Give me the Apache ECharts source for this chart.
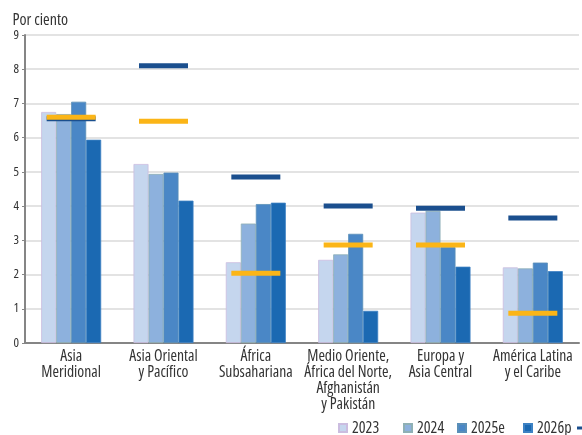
<!DOCTYPE html>
<html>
<head>
<meta charset="utf-8">
<script src="https://cdn.jsdelivr.net/npm/echarts@6/dist/echarts.min.js"></script>
<style>
  html, body { margin: 0; padding: 0; background: #ffffff; }
  #chart { width: 582px; height: 435px; }
</style>
</head>
<body>
<div id="chart"></div>
<script>
// Regions (category axis labels)
const regions = [
  'Asia\nMeridional',
  'Asia Oriental\ny Pacífico',
  'África\nSubsahariana',
  'Medio Oriente,\nÁfrica del Norte,\nAfghanistán\ny Pakistán',
  'Europa y\nAsia Central',
  'América Latina\ny el Caribe'
];

// Growth by year, per cent
const g2023  = [6.75, 5.23, 2.36, 2.43, 3.81, 2.21];
const g2024  = [6.69, 4.94, 3.49, 2.59, 3.86, 2.18];
const g2025e = [7.05, 4.98, 4.06, 3.19, 2.80, 2.35];
const g2026p = [5.94, 4.16, 4.10, 0.94, 2.23, 2.10];

// Period averages shown as horizontal markers
const avgDark   = [6.55, 8.10, 4.85, 4.00, 3.94, 3.65];
const avgYellow = [6.60, 6.48, 2.04, 2.86, 2.86, 0.87];

const yTicks = { min: 0, max: 9, interval: 1 };

// Condensed Open Sans: the stretch keyword goes in via fontStyle so it
// ends up in the canvas font shorthand.
const FONT = '"Open Sans", sans-serif';
const STRETCH = 'condensed';
const TXT = '#333333';

const colors = {
  y2023: '#c5d6ee',
  y2024: '#8db1dd',
  y2025e: '#4a87c6',
  y2026p: '#1b69b2',
  dark: '#1b4f8e',
  yellow: '#fbb517'
};

function barSeries(name, data, color, border) {
  return {
    name: name,
    type: 'bar',
    data: data,
    barWidth: 15,
    barGap: '0%',
    itemStyle: { color: color, borderColor: border, borderWidth: 0.8 },
    emphasis: { disabled: true },
    z: 2
  };
}

function markerSeries(name, data, color, z) {
  return {
    name: name,
    type: 'scatter',
    data: data.map((v, i) => [i, v]),
    symbol: 'rect',
    symbolSize: [49, 5],
    itemStyle: { color: color, opacity: 1 },
    emphasis: { disabled: true },
    z: z
  };
}

function legendAt(left, name, extra) {
  return Object.assign({
    data: [name],
    left: left,
    top: 420,
    padding: 0,
    width: 400,
    orient: 'horizontal',
    itemWidth: 8,
    itemHeight: 8,
    itemGap: 0,
    icon: 'rect',
    selectedMode: false,
    textStyle: { fontFamily: FONT, fontStyle: STRETCH, fontSize: 16, lineHeight: 16, color: TXT }
  }, extra || {});
}

const chart = echarts.init(document.getElementById('chart'), null, { renderer: 'canvas' });

chart.setOption({
  animation: false,
  backgroundColor: '#ffffff',
  title: {
    text: 'Por ciento',
    left: 12.5,
    top: 12.5,
    padding: 0,
    textStyle: { fontFamily: FONT, fontStyle: STRETCH, fontSize: 16, lineHeight: 16, fontWeight: 'normal', color: TXT }
  },
  grid: { left: 25, right: 3, top: 35, bottom: 92 },
  legend: [
    legendAt(338, '2023'),
    legendAt(403, '2024'),
    legendAt(457, '2025e'),
    legendAt(523, '2026p'),
    legendAt(577, 'Promedio 2000-19', { itemWidth: 12, itemHeight: 3 }),
    legendAt(700, 'Promedio 2010-19', { itemWidth: 12, itemHeight: 3 })
  ],
  xAxis: {
    type: 'category',
    data: regions,
    axisLine: { show: true, lineStyle: { color: '#858585', width: 2 } },
    axisTick: { show: false },
    axisLabel: {
      interval: 0,
      margin: 5,
      fontFamily: FONT,
      fontStyle: STRETCH,
      fontSize: 15.7,
      lineHeight: 16.2,
      color: TXT,
      verticalAlign: 'top'
    },
    splitLine: { show: false }
  },
  yAxis: {
    type: 'value',
    min: yTicks.min,
    max: yTicks.max,
    interval: yTicks.interval,
    axisLine: { show: true, lineStyle: { color: '#858585', width: 2 } },
    axisTick: { show: true, length: 3, lineStyle: { color: '#858585', width: 1 } },
    axisLabel: { fontFamily: FONT, fontStyle: STRETCH, fontSize: 13, color: TXT, margin: 6 },
    splitLine: { show: true, lineStyle: { color: '#dadada', width: 1.5 } }
  },
  series: [
    barSeries('2023', g2023, colors.y2023, '#cbbde0'),
    barSeries('2024', g2024, colors.y2024, '#8fb0b5'),
    barSeries('2025e', g2025e, colors.y2025e, '#5a8fb8'),
    barSeries('2026p', g2026p, colors.y2026p, '#3d82c4'),
    markerSeries('Promedio 2000-19', avgDark, colors.dark, 5),
    markerSeries('Promedio 2010-19', avgYellow, colors.yellow, 6)
  ]
});
</script>
</body>
</html>
